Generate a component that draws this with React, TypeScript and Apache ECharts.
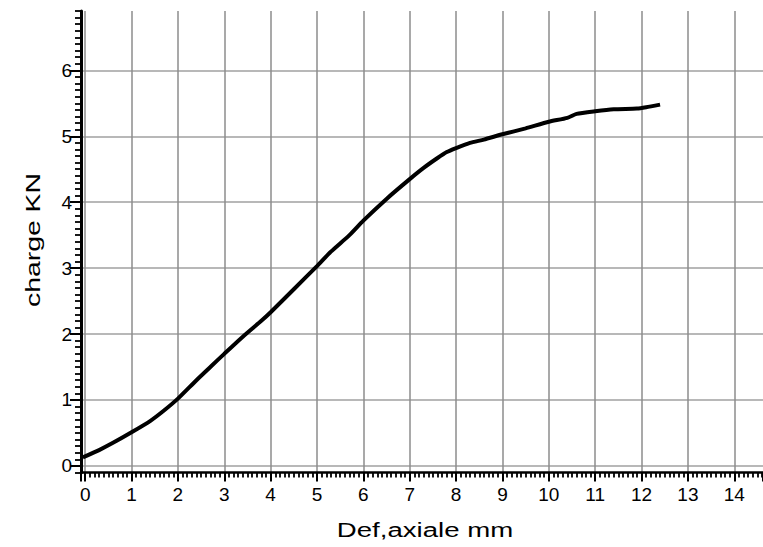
import React, { useEffect, useRef } from "react";
import * as echarts from "echarts";

const defAxiale = [-0.05, 0.3, 0.6, 1, 1.4, 1.7, 2, 2.4, 2.7, 3, 3.4, 3.8, 4, 4.5, 5, 5.3, 5.7, 6, 6.5, 7, 7.3, 7.6, 7.8, 8, 8.3, 8.6, 9, 9.5, 10, 10.4, 10.6, 11, 11.4, 11.9, 12.1, 12.4];
const chargeKN = [0.13, 0.24, 0.35, 0.51, 0.68, 0.84, 1.02, 1.3, 1.5, 1.7, 1.96, 2.2, 2.33, 2.68, 3.03, 3.25, 3.5, 3.72, 4.05, 4.35, 4.52, 4.67, 4.76, 4.82, 4.9, 4.95, 5.03, 5.12, 5.22, 5.28, 5.34, 5.38, 5.41, 5.42, 5.44, 5.48];

const xTitle = "Def,axiale mm";
const yTitle = "charge KN";

const FONT = "Arial, 'Liberation Sans', sans-serif";
const Y_MIN = -0.1;
const Y_MAX = 6.9;

const intLabel = (v: number) => (Math.abs(v - Math.round(v)) < 1e-6 ? String(Math.round(v)) : "");

export default function App() {
  const ref = useRef<HTMLDivElement>(null);
  useEffect(() => {
    document.body.style.margin = "0";
    const chart = echarts.init(ref.current!, null, { renderer: "svg" });
    chart.setOption({
      animation: false,
      backgroundColor: "#ffffff",
      grid: { left: 81, right: 0, top: 11, bottom: 74.5, containLabel: false },
      xAxis: {
        type: "value",
        min: -0.09,
        max: 14.62,
        splitNumber: 15,
        axisLine: { show: true, onZero: false, lineStyle: { color: "#000", width: 2.5 } },
        axisTick: { show: true, length: 9, lineStyle: { color: "#000", width: 2 } },
        minorTick: { show: true, splitNumber: 10, length: 5, lineStyle: { color: "#000", width: 1.8 } },
        axisLabel: { formatter: intLabel, fontSize: 19, color: "#000", fontFamily: FONT, margin: 12, showMinLabel: false, showMaxLabel: false },
        splitLine: { show: true, showMinLine: false, showMaxLine: false, lineStyle: { color: "#8c8c8c", width: 1.5 } },
      },
      yAxis: [
        {
          type: "value",
          min: Y_MIN,
          max: Y_MAX,
          splitNumber: 7,
          axisLine: { show: true, onZero: false, lineStyle: { color: "#000", width: 3 } },
          axisTick: { show: true, length: 11, lineStyle: { color: "#000", width: 2 } },
          minorTick: { show: false },
          axisLabel: { formatter: intLabel, fontSize: 19, color: "#000", fontFamily: FONT, margin: 9, showMinLabel: false, showMaxLabel: false },
          splitLine: { show: true, showMinLine: false, showMaxLine: false, lineStyle: { color: "#b8b8b8", width: 2 } },
        },
        {
          type: "value",
          position: "left",
          min: Y_MIN,
          max: Y_MAX,
          interval: 0.1,
          axisLine: { show: false, onZero: false },
          axisTick: { show: true, length: 6, lineStyle: { color: "#000", width: 1.8 } },
          axisLabel: { show: false },
          splitLine: { show: false },
        },
      ],
      graphic: [
        {
          type: "text",
          x: 425,
          y: 530,
          scaleX: 1.38,
          style: { text: xTitle, font: `20px ${FONT}`, fill: "#000", align: "center", verticalAlign: "middle" },
        },
        {
          type: "text",
          x: 33,
          y: 240,
          rotation: Math.PI / 2,
          scaleX: 1.42,
          style: { text: yTitle, font: `20px ${FONT}`, fill: "#000", align: "center", verticalAlign: "middle" },
        },
      ],
      series: [
        {
          type: "line",
          data: defAxiale.map((x, i) => [x, chargeKN[i]]),
          showSymbol: false,
          smooth: 0.2,
          lineStyle: { color: "#000", width: 4 },
          z: 5,
        },
      ],
    });
    return () => chart.dispose();
  }, []);
  return <div ref={ref} style={{ width: 763, height: 547 }} />;
}
